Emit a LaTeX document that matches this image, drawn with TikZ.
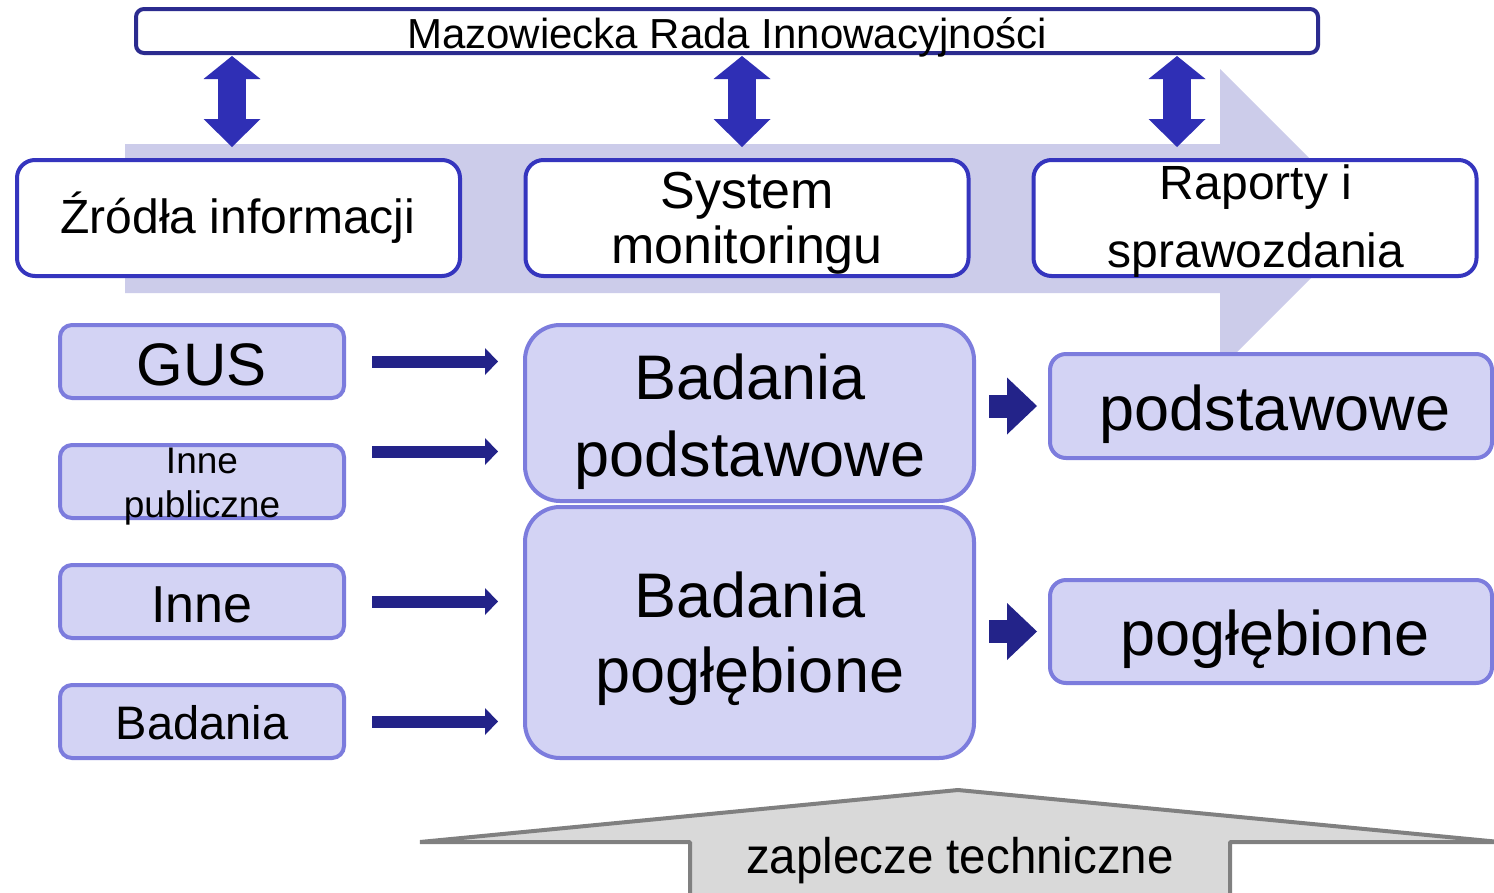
\documentclass[tikz,border=0pt]{standalone}
\usepackage{fontspec}
\setmainfont{Liberation Sans}
\usetikzlibrary{arrows.meta}
\definecolor{topb}{HTML}{2B2B8F}
\definecolor{hdrb}{HTML}{3535BE}
\definecolor{dblc}{HTML}{2F2FB5}
\definecolor{bgarrow}{HTML}{CCCCEA}
\definecolor{lightf}{HTML}{D3D3F4}
\definecolor{lightb}{HTML}{7C7CDD}
\definecolor{navy}{HTML}{232389}
\definecolor{grayf}{HTML}{D9D9D9}
\definecolor{grayl}{HTML}{808080}
\newcommand{\fs}[1]{\fontsize{#1}{#1}\selectfont}
\begin{document}
\begin{tikzpicture}[x=1pt,y=-1pt,
  hdr/.style={draw=hdrb, fill=white, line width=4pt, rounded corners=18pt, minimum width=443pt, minimum height=116pt, inner sep=0pt},
  srcbox/.style={draw=lightb, fill=lightf, line width=4pt, rounded corners=12pt, minimum width=284pt, minimum height=73pt, inner sep=0pt},
  studybox/.style={draw=lightb, fill=lightf, line width=4pt, rounded corners=35pt, minimum width=449pt, inner sep=0pt},
  resbox/.style={draw=lightb, fill=lightf, line width=4pt, rounded corners=16pt, minimum width=442pt, inner sep=0pt},
  lbl/.style={anchor=base, inner sep=0pt, text=black},
  dblarrow/.style={draw=dblc, line width=28pt, {Triangle[length=23pt,width=57pt,line width=0pt]}-{Triangle[length=28pt,width=57pt,line width=0pt]}},
  thinarrow/.style={draw=navy, line width=12pt, -{Triangle[length=13pt,width=27pt,line width=0pt]}},
  thickarrow/.style={draw=navy, line width=23pt, -{Triangle[length=30pt,width=57pt,line width=0pt]}}
]
\useasboundingbox (0,0) rectangle (1494,892);
\clip (0,0) rectangle (1494,892);
\fill[white] (0,0) rectangle (1494,892);

% background flow arrow
\fill[bgarrow] (125,144) -- (1220,144) -- (1220,69) -- (1370,219) -- (1220,369) -- (1220,293) -- (125,293) -- cycle;

% bottom gray arrow
\draw[grayl, fill=grayf, line width=4pt, line join=bevel]
  (690,900) -- (690,842) -- (420,842) -- (958,790) -- (1500,842) -- (1230,842) -- (1230,900);
\node[lbl] (zap) at (960,873) {\fs{50}\scalebox{0.95}[1]{zaplecze techniczne}};

% top box
\node[draw=topb, fill=white, line width=4pt, rounded corners=8pt, minimum width=1182pt, minimum height=44pt, inner sep=0pt] (mrada) at (727,31) {};
\node[lbl] (mradat) at (727,48) {\fs{42}Mazowiecka Rada Innowacyjności};

% header boxes
\node[hdr] (zrodla) at (238.5,218) {};
\node[hdr] (system) at (747,218) {};
\node[hdr] (raporty) at (1255,218) {};
\node[lbl] (zrodlat) at (238,233) {\fs{48}Źródła informacji};
\node[lbl] (systemt1) at (747,208) {\fs{52}System};
\node[lbl] (systemt2) at (747,263) {\fs{52}monitoringu};
\node[lbl] (raportyt1) at (1256,199) {\fs{48}Raporty i};
\node[lbl] (raportyt2) at (1256,267) {\fs{48}sprawozdania};

% double arrows
\coordinate (d1a) at (232,56); \coordinate (d1b) at (232,147);
\coordinate (d2a) at (742,56); \coordinate (d2b) at (742,147);
\coordinate (d3a) at (1177,56); \coordinate (d3b) at (1177,147);
\draw[dblarrow] (d1a) -- (d1b);
\draw[dblarrow] (d2a) -- (d2b);
\draw[dblarrow] (d3a) -- (d3b);

% source boxes
\node[srcbox] (gus) at (202,361.5) {};
\node[srcbox] (innep) at (202,481.5) {};
\node[srcbox] (inne) at (202,601.5) {};
\node[srcbox] (badania) at (202,721.5) {};
\node[lbl] (gust) at (202,385) {\fs{60}GUS};
\node[lbl] (innept1) at (202,473) {\fs{37}Inne};
\node[lbl] (innept2) at (202,517) {\fs{37}publiczne};
\node[lbl] (innet) at (202,622) {\fs{52}Inne};
\node[lbl] (badaniat) at (202,739) {\fs{47}Badania};

% study boxes
\node[studybox, minimum height=176pt] (bp) at (749.5,413) {};
\node[studybox, minimum height=251pt] (bg) at (749.5,632.5) {};
\node[lbl] (bpt1) at (750,399) {\fs{63}Badania};
\node[lbl] (bpt2) at (750,476) {\fs{63}podstawowe};
\node[lbl] (bgt1) at (750,617) {\fs{63}Badania};
\node[lbl] (bgt2) at (750,692) {\fs{63}pogłębione};

% result boxes
\node[resbox, minimum height=104pt] (rp) at (1271,406) {};
\node[resbox, minimum height=103pt] (rg) at (1271,631.5) {};
\node[lbl] (rpt) at (1275,430) {\fs{63}podstawowe};
\node[lbl] (rgt) at (1275,655) {\fs{63}pogłębione};

% thin arrows sources -> studies
\draw[thinarrow, shorten <=26pt, shorten >=25pt] (gus.east) -- (gus.east -| bp.west);
\draw[thinarrow, shorten <=26pt, shorten >=25pt] (innep.east) ++(0,-30) coordinate (ip) (ip) -- (ip -| bp.west);
\draw[thinarrow, shorten <=26pt, shorten >=25pt] (inne.east) -- (inne.east -| bg.west);
\draw[thinarrow, shorten <=26pt, shorten >=25pt] (badania.east) -- (badania.east -| bg.west);

% thick arrows studies -> results
\draw[thickarrow, shorten <=13pt, shorten >=11pt] (rp.west -| bp.east) -- (rp.west);
\draw[thickarrow, shorten <=13pt, shorten >=11pt] (rg.west -| bg.east) -- (rg.west);
\end{tikzpicture}
\end{document}
